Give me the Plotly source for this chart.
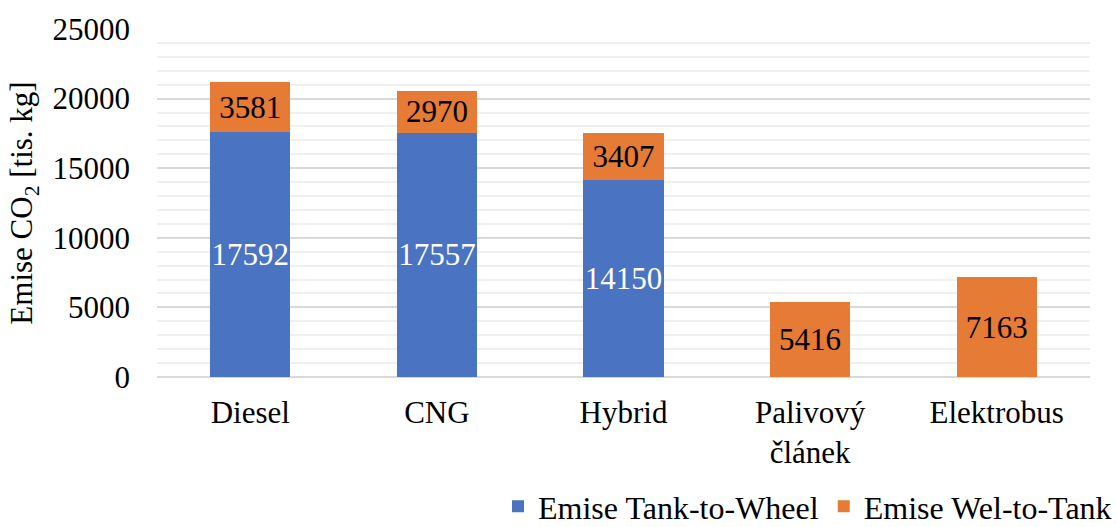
import plotly.graph_objects as go

categories = ["Diesel", "CNG", "Hybrid", "Palivový<br>článek", "Elektrobus"]
tank_to_wheel = [17592, 17557, 14150, None, None]
wel_to_tank = [3581, 2970, 3407, 5416, 7163]
y_ticks = [0, 5000, 10000, 15000, 20000, 25000]

FONT = "Liberation Serif"
FS = 31

def present(cats, vals):
    pairs = [(c, v) for c, v in zip(cats, vals) if v is not None]
    return [p[0] for p in pairs], [p[1] for p in pairs]

ttw_x, ttw_y = present(categories, tank_to_wheel)
wtt_x, wtt_y = present(categories, wel_to_tank)

fig = go.Figure()
fig.add_trace(go.Bar(
    x=ttw_x, y=ttw_y, name="Emise Tank-to-Wheel",
    marker=dict(color="#4a73c2", line=dict(width=0)),
    texttemplate="%{y}", textposition="inside", insidetextanchor="middle", textangle=0,
    textfont=dict(color="white", size=FS, family=FONT), constraintext="none",
))
fig.add_trace(go.Bar(
    x=wtt_x, y=wtt_y, name="Emise Wel-to-Tank",
    marker=dict(color="#e57b35", line=dict(width=0)),
    texttemplate="%{y}", textposition="inside", insidetextanchor="middle", textangle=0,
    textfont=dict(color="black", size=FS, family=FONT), constraintext="none",
))

fig.update_layout(
    barmode="stack", bargap=0.57,
    width=1117, height=527,
    margin=dict(l=157, r=27, t=29, b=150, autoexpand=False),
    paper_bgcolor="white", plot_bgcolor="white",
    font=dict(family=FONT, size=FS, color="black"),
    showlegend=True,
    legend=dict(orientation="h", xref="container", yref="container",
                x=1.0, xanchor="right", y=0.039, yanchor="middle",
                font=dict(size=32, family=FONT), traceorder="normal", itemwidth=30,
                bgcolor="rgba(0,0,0,0)"),
)
fig.update_xaxes(categoryorder="array", categoryarray=categories,
                 showgrid=False, ticks="", showline=False, ticklabelstandoff=14, automargin=False)
fig.update_yaxes(
    range=[0, 25000], tickvals=y_ticks, tickformat="d",
    showgrid=True, gridcolor="#d9d9d9", gridwidth=1.5,
    zeroline=True, zerolinecolor="#d9d9d9", zerolinewidth=1.5,
    minor=dict(dtick=1000, showgrid=True, gridcolor="#f0f0f0", gridwidth=1.5),
    ticks="", ticklabelstandoff=26, showline=False, automargin=False,
    title=dict(text="Emise CO<sub>2</sub> [tis. kg]", standoff=10, font=dict(size=FS, family=FONT)),
)

fig.write_html("out.html", config={"displayModeBar": False},
               post_script="document.body.style.margin='0';document.body.style.padding='0';")
